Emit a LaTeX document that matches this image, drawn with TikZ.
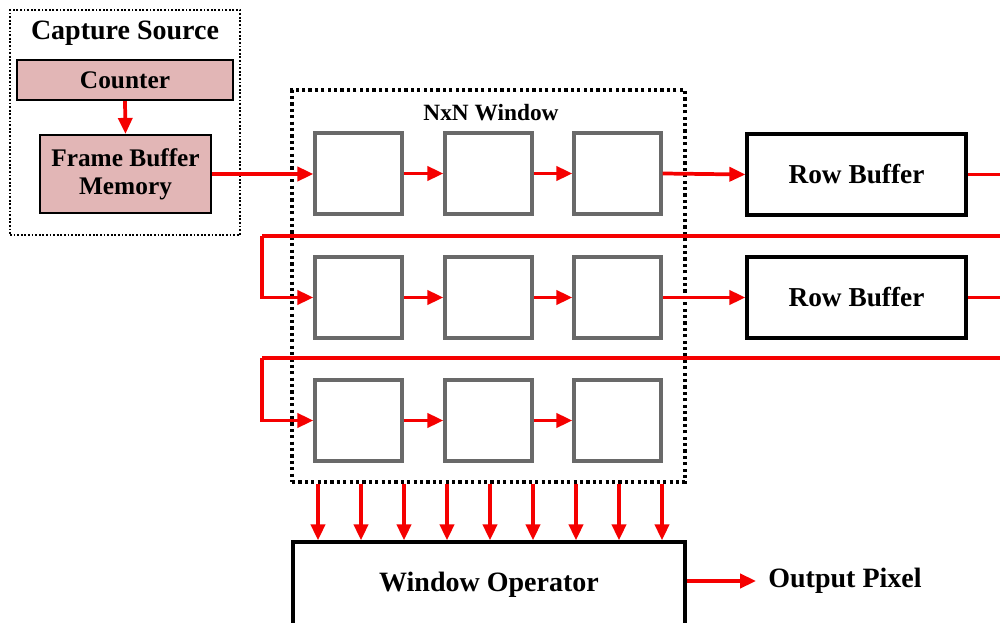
\documentclass[tikz,border=0pt]{standalone}
\usepackage{fontspec}
\setmainfont{Liberation Serif}
\usetikzlibrary{arrows.meta}
\definecolor{pinkfill}{RGB}{226,182,182}
\definecolor{cellgray}{RGB}{105,105,105}
\definecolor{linkred}{RGB}{245,0,0}
\begin{document}
\begin{tikzpicture}[x=0.75pt,y=-0.75pt,
  dotbox/.style={draw=black,line width=1.3pt,dash pattern=on 1.3pt off 1.4pt},
  winbox/.style={draw=black,line width=2.6pt,dash pattern=on 2.4pt off 2.4pt},
  srcbox/.style={draw=black,line width=1.6pt,fill=pinkfill,inner sep=0pt,align=center,font=\bfseries\fontsize{19}{22}\selectfont},
  cellbox/.style={draw=cellgray,line width=2.4pt,minimum width=65.25pt,minimum height=60.75pt,inner sep=0pt},
  bufbox/.style={draw=black,line width=2.4pt,minimum width=164.25pt,minimum height=60.75pt,inner sep=0pt,font=\bfseries\fontsize{20.5}{24}\selectfont},
  arr/.style={draw=linkred,line width=2.8pt,-{Triangle[length=12pt,width=10.5pt]}},
  link/.style={draw=linkred,line width=2.8pt},
  lbl/.style={inner sep=0pt,font=\bfseries\fontsize{21}{25}\selectfont}]
\useasboundingbox (0,0) rectangle (1000,623);
\clip (0,0) rectangle (1000,623);
\fill[white] (0,0) rectangle (1000,623);

% capture source
\node[dotbox,minimum width=172.5pt,minimum height=168.75pt,inner sep=0pt] (cap) at (125,122.5) {};
\node[lbl] (captitle) at (125,33) {Capture Source};
\node[srcbox,minimum width=162pt,minimum height=30pt] (counter) at (125,80) {Counter};
\node[srcbox,minimum width=128.25pt,minimum height=58.5pt] (fbm) at (125.5,174) {Frame Buffer\\[-1pt]Memory};

% window
\node[winbox,minimum width=294.75pt,minimum height=294pt,inner sep=0pt] (win) at (488.5,286) {};
\node[inner sep=0pt,font=\bfseries\fontsize{17.5}{20}\selectfont] (wintitle) at (491,113) {NxN Window};

\foreach \r/\y in {1/173.5,2/297.5,3/420.5}{
  \node[cellbox] (c\r1) at (358.5,\y) {};
  \node[cellbox] (c\r2) at (488.5,\y) {};
  \node[cellbox] (c\r3) at (617.5,\y) {};
}

\node[bufbox] (rb1) at (856.5,174.5) {Row Buffer};
\node[bufbox] (rb2) at (856.5,297.5) {Row Buffer};

\node[draw=black,line width=2.4pt,minimum width=294pt,minimum height=64.5pt,inner sep=0pt,font=\bfseries\fontsize{21}{25}\selectfont] (wop) at (489,585) {\raisebox{4pt}{Window Operator}};
\node[lbl,inner xsep=9pt] (out) at (845,581) {Output Pixel};

% connectors
\draw[arr] (counter.south) -- (fbm.north);
\draw[arr] (fbm.east) -- (fbm.east -| c11.west);
\foreach \r in {1,2,3}{
  \draw[arr] (c\r1.east) -- (c\r2.west);
  \draw[arr] (c\r2.east) -- (c\r3.west);
}
\draw[arr] (c13.east) -- (rb1.west);
\draw[arr] (c23.east) -- (rb2.west);

\coordinate (e1) at (1010,236);
\coordinate (l1) at (262,236);
\coordinate (e2) at (1010,358);
\coordinate (l2) at (262,358);
\draw[link] (rb1.east) -| (e1) -- (l1);
\draw[arr] (l1) |- (c21.west);
\draw[link] (rb2.east) -| (e2) -- (l2);
\draw[arr] (l2) |- (c31.west);

\foreach \x in {318,361,404,447,490,533,576,619,662}{
  \draw[arr] (win.south -| \x,0) -- (wop.north -| \x,0);
}
\draw[arr] (wop.east |- out.west) -- (out.west);
\end{tikzpicture}
\end{document}
